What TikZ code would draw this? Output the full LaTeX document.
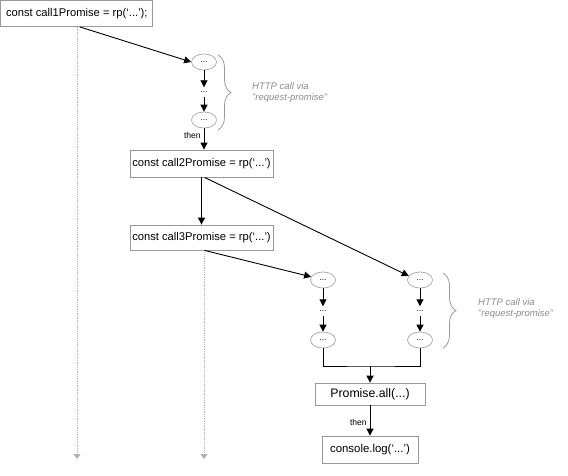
\documentclass[tikz,border=0pt]{standalone}
\usepackage{fontspec}
\setmainfont{Liberation Sans}
\usetikzlibrary{arrows.meta,shapes.geometric,decorations.pathreplacing}
\begin{document}
\begin{tikzpicture}[x=1pt,y=-1pt,
  box/.style={draw=black!40, line width=0.8pt, inner sep=0pt, font=\fontsize{11.2}{13}\selectfont},
  oval/.style={ellipse, draw=black!35, line width=0.7pt, minimum width=25pt, minimum height=16pt, inner sep=0pt, font=\fontsize{8.5}{9}\selectfont},
  dots/.style={inner sep=0pt, minimum height=9pt, font=\fontsize{8.5}{9}\selectfont},
  arr/.style={-{Triangle[length=7pt,width=7pt]}, line width=0.9pt, black},
  ghost/.style={-{Triangle[length=5pt,width=7pt]}, draw=black!30, line width=0.8pt, densely dotted, color=black!30},
  note/.style={font=\fontsize{9.5}{11}\selectfont\itshape, text=black!45, align=left, anchor=west, inner sep=0pt},
  lab/.style={font=\fontsize{8.5}{10}\selectfont, inner sep=0pt},
  brc/.style={draw=black!40, line width=0.8pt, decorate, decoration={brace, amplitude=13pt}}
]
\useasboundingbox (0,0) rectangle (568,476);

\node[box, minimum width=152pt, minimum height=26pt] (c1) at (76.8,13.5) {const call1Promise = rp(‘...’);};
\node[oval] (e1) at (204,62) {...};
\node[dots] (d1) at (204,92) {...};
\node[oval] (e2) at (204,120) {...};
\node[box, minimum width=143pt, minimum height=27pt] (c2) at (201.5,163.5) {const call2Promise = rp(‘...’)};
\node[box, minimum width=143pt, minimum height=25pt] (c3) at (201.5,237.5) {const call3Promise = rp(‘...’)};

\node[oval] (e3) at (323,280) {...};
\node[dots] (d3) at (323,311) {...};
\node[oval] (e4) at (323,340) {...};
\node[oval] (e5) at (420,280) {...};
\node[dots] (d5) at (420,311) {...};
\node[oval] (e6) at (420,340) {...};

\node[box, minimum width=110pt, minimum height=22pt, font=\fontsize{12.3}{14}\selectfont] (pa) at (370,394) {Promise.all(...)};
\node[box, minimum width=96pt, minimum height=27pt, font=\fontsize{11.4}{13}\selectfont] (cl) at (370,449.5) {console.log(‘...’)};

\coordinate (g1) at (77,459);
\coordinate (g2) at (204,459);
\coordinate (j) at (370,366);

% ghost lines
\draw[ghost] ([xshift=0.2pt]c1.south) -- (g1);
\draw[ghost] ([xshift=2.5pt]c3.south) -- (g2);

% arrows
\draw[arr] ([xshift=3pt]c1.south) -- (e1.west);
\draw[arr] (e1.south) -- (d1.north);
\draw[arr] (d1.south) -- (e2.north);
\draw[arr] (e2.south) -- node[lab, left=3pt, pos=0.35] {then} ([xshift=2.5pt]c2.north);
\draw[arr] (c2.south) -- (c3.north);
\draw[arr] ([xshift=3pt]c2.south) -- (e5.160);
\draw[arr] ([xshift=3pt]c3.south) -- (e3.165);

\draw[arr] (e3.south) -- (d3.north);
\draw[arr] (d3.south) -- (e4.north);
\draw[arr] (e5.south) -- (d5.north);
\draw[arr] (d5.south) -- (e6.north);

\draw[line width=0.9pt] (e4.south) |- (j) -| (e6.south);
\draw[arr] (j) -- (pa.north);
\draw[arr] (pa.south) -- node[lab, left=3pt, pos=0.55] {then} (cl.north);

% braces
\draw[brc] (218,55) -- (218,130);
\node[note] (n1) at (252,93) {HTTP call via\\"request-promise"};
\draw[brc] (443,273) -- (443,348);
\node[note] (n2) at (478,309) {HTTP call via\\"request-promise"};
\end{tikzpicture}
\end{document}
